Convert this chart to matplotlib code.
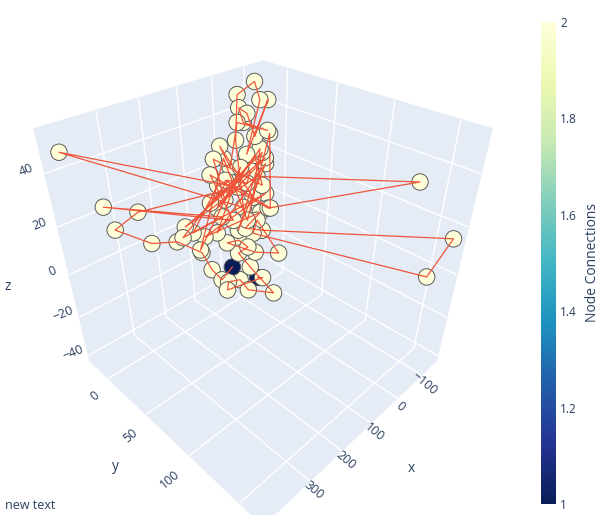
import numpy as np
import matplotlib
matplotlib.use('Agg')
import matplotlib.pyplot as plt
from matplotlib.patches import Rectangle

plt.rcParams['font.family'] = ['Open Sans', 'DejaVu Sans']

# node coordinates, in chain order (each node is linked to the next one)
node_x = [96, 128, 130, 171, 234, 296, 358, 311, 68, 413, 75, 41, -11, -51, -41, 25, -60, -4,
          -6, -1, 0, -23, 24, 65, 80, 30, -11, 103, 105, 15, -3, 116, -19, 140,
          -15, 84, -20, 145, 64, 200, 76, 83, -42, 62, 102, 68,
          20, 220, 8, -122, 20, 124, 120, 359, 136, 237, 69, 114, 196, -5, 178, 18, 87, 30,
          -148, -99, 60, 38, 17, 42, 130, 84, 83, 99, 65, 86, 98, 83, 131, 161, 14, 8]
node_y = [25, 24, 13, 19, 18, 17, 7, 13, 24, -12, 32, 13, -3, 2, 11, 19, 13, 18, 9, 2, 7, 25,
          9, 15, 10, 27, 21, 22, 12, 32, 18, 18, 24, 20,
          22, 29, 24, 28, 26, 30, 12, 39, 21, 56, 23, 34,
          21, 23, 24, 137, 40, 15, 37, -3, 31, 27, 14, 19, 21, 29, 27, 31, 38, 37, 165, 159,
          37, 34, 51, 33, 33, 29, 39, 34, 35, 68, 44, 29, 33, 43, 32, 24]
node_z = [-11.6, -15.4, -13.1, -0.1, 9.4, 13.2, 21.0, 25.9, 22.2, 48.8, 15.7, 37.7, 50.5, 54.4,
          49.1, 32.2, 48.6, 37.7, 45.2, 46.6, 41.7, 40.1, 43.1, 28.6, 36.9, 16.1, 32.9, 18.7,
          33.5, 21.2, 30.1, 15.3, 29.3, 19.4,
          31.3, 5.7, 26.8, 8.8, 30.3, 6.0, 32.2, 12.2, 37.4, 19.4, 26.9, 25.7,
          25.6, 15.7, 23.1, 33.4, 13.3, 28.9, 14.3, 27.8, 15.6, 13.4, 23.3, 24.9, 11.0, 15.9,
          9.3, 9.5, 8.8, 3.5, 15.2, 1.6, 4.3, 8.0, -4.9, -6.8, 4.4, 1.2, 0.3, -2.5, -11.6,
          -13.7, -17.7, -18.0, -13.8, -12.3, -22.2, -24.8]
# number of connections of each node (the two chain ends have 1)
node_conn = [1] + [2] * 80 + [1]

x_ticks = [-100, 0, 100, 200, 300]
y_ticks = [0, 50, 100, 150]
z_ticks = [-40, -20, 0, 20, 40]
cbar_ticks = [1, 1.2, 1.4, 1.6, 1.8, 2]
cbar_labels = ['1', '1.2', '1.4', '1.6', '1.8', '2']


def tick_text(v):
    return str(v).replace('-', '\u2212')


txt = '#2a3f5f'
fig = plt.figure(figsize=(6.13, 5.25), dpi=100)
ax = fig.add_axes([22.2 / 613, 23.2 / 525, 469 / 613, 469 / 525],
                  projection='3d', proj_type='persp', focal_length=0.2287,
                  computed_zorder=False)
ax.view_init(elev=35.264, azim=45)
ax.set_box_aspect((1, 1, 1))
ax.set_xlim(-165, 430)
ax.set_ylim(-27, 171)
ax.set_zlim(-43, 55)

for axis in (ax.xaxis, ax.yaxis, ax.zaxis):
    axis.set_pane_color('#E5ECF6')
    axis.pane.set_edgecolor('#E5ECF6')
    axis.line.set_color((1, 1, 1, 0))
    axis._axinfo['grid'].update(color='white', linewidth=1.0)
    axis._axinfo['tick'].update(inward_factor=0, outward_factor=0)

ax.set_xticks(x_ticks)
ax.set_yticks(y_ticks)
ax.set_zticks(z_ticks)
ax.set_xticklabels([tick_text(v) for v in x_ticks])
ax.set_yticklabels([tick_text(v) for v in y_ticks])
ax.set_zticklabels([tick_text(v) for v in z_ticks])
ax.tick_params(axis='x', labelrotation=-40, labelsize=9, labelcolor=txt, pad=-4)
ax.tick_params(axis='y', labelrotation=40, labelsize=9, labelcolor=txt, pad=-2)
ax.tick_params(axis='z', labelrotation=22, labelsize=9, labelcolor=txt, pad=-1)
for t in ax.xaxis.get_major_ticks():
    t.label1.set_rotation_mode('anchor')
    t.label1.set_va('center_baseline')
for t in ax.yaxis.get_major_ticks():
    t.label1.set_ha('right')
for t in ax.zaxis.get_major_ticks():
    t.label1.set_rotation_mode('anchor')
    t.label1.set_va('baseline')

ax.plot(node_x, node_y, node_z, color='#EF553B', lw=0.9, zorder=3)
sc = ax.scatter(node_x, node_y, node_z, s=140, c=node_conn, cmap='YlGnBu_r', vmin=1, vmax=2,
                edgecolors='#5a5a5a', linewidths=0.7, depthshade=False, zorder=2)

fig.text(8 / 613, 1 - 287 / 525, 'z', color=txt, fontsize=10, ha='center', va='center')
fig.text(115 / 613, 1 - 467 / 525, 'y', color=txt, fontsize=10, ha='center', va='center')
fig.text(411 / 613, 1 - 468 / 525, 'x', color=txt, fontsize=10, ha='center', va='center')

# the scene is cut off just above the bottom of the picture
fig.patches.append(Rectangle((0, 0), 530 / 613, 10 / 525, transform=fig.transFigure,
                             facecolor='white', edgecolor='none', zorder=5))
fig.text(5 / 613, 1 - 512 / 525, 'new text', color=txt, fontsize=9, ha='left',
         va='bottom', zorder=6)

cax = fig.add_axes([541 / 613, 21 / 525, 15 / 613, 482 / 525])
cb = fig.colorbar(sc, cax=cax, ticks=cbar_ticks)
cb.ax.set_yticklabels(cbar_labels)
cb.outline.set_visible(False)
cb.ax.tick_params(length=0, pad=3, labelsize=8.6, labelcolor=txt)
cb.set_label('Node Connections', color=txt, fontsize=10, labelpad=6)

fig.savefig('out.png')
